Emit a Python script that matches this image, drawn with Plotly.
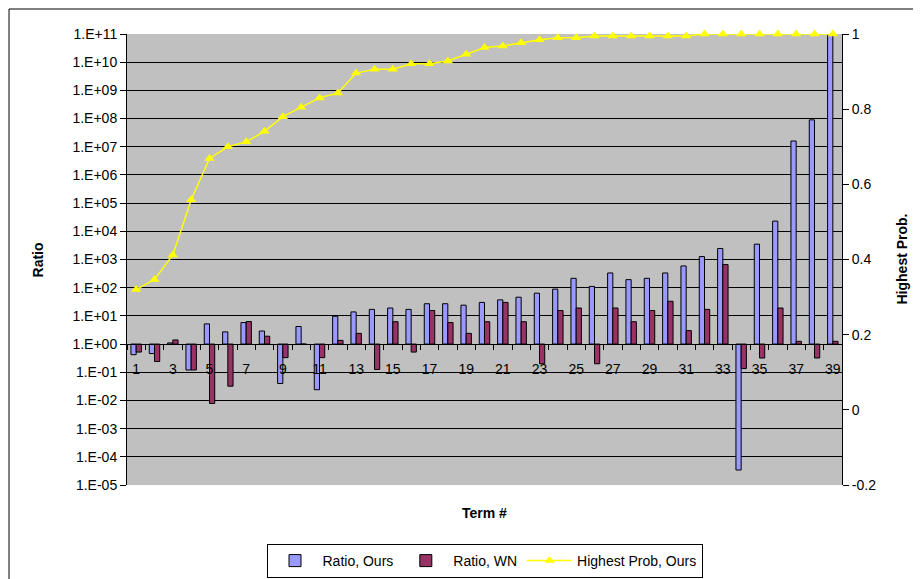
import plotly.graph_objects as go

terms = list(range(1, 40))

ratio_ours = [0.42, 0.46, 1.1, 0.12, 5.2, 2.7, 5.8, 2.9, 0.04, 4.2,
              0.024, 9.7, 13.8, 17, 19, 17, 27, 27, 24, 30,
              37, 46, 64, 89, 215, 111, 333, 193, 215, 333,
              590, 1270, 2460, 3.4e-5, 3500, 23000, 1.6e7, 9e7, 9e10]
ratio_wn = [0.52, 0.24, 1.4, 0.12, 0.0078, 0.032, 6.3, 1.9, 0.33, 1.0,
            0.33, 1.35, 2.4, 0.125, 6.2, 0.52, 15.5, 5.8, 2.4, 6.2,
            30, 6.2, 0.2, 15.5, 19, 0.2, 19, 6.2, 15.5, 33,
            3.0, 17, 660, 0.135, 0.32, 19, 1.25, 0.32, 1.25]
highest_prob = [0.32, 0.347, 0.412, 0.559, 0.669, 0.70, 0.713, 0.741, 0.78, 0.805,
                0.83, 0.843, 0.896, 0.906, 0.906, 0.921, 0.921, 0.928, 0.946, 0.964,
                0.968, 0.977, 0.985, 0.99, 0.99, 0.995, 0.995, 0.995, 0.995, 0.995,
                0.995, 1.0, 1.0, 1.0, 1.0, 1.0, 1.0, 1.0, 1.0]

ratio_exps = list(range(-5, 12))
ratio_ticktext = ["1.E%+03d" % k for k in ratio_exps]
prob_ticks = [-0.2, 0, 0.2, 0.4, 0.6, 0.8, 1]
prob_ticktext = ["-0.2", "0", "0.2", "0.4", "0.6", "0.8", "1"]
x_labels = [t for t in terms if t % 2 == 1]

FONT = "Liberation Sans, Arial, sans-serif"

fig = go.Figure()
# bars hang from 1.E+00 like the excel chart
fig.add_trace(go.Bar(
    x=terms, y=[v - 1 for v in ratio_ours], base=1,
    name="Ratio, Ours",
    marker=dict(color="#9999FF", line=dict(color="black", width=1)),
))
fig.add_trace(go.Bar(
    x=terms, y=[v - 1 for v in ratio_wn], base=1,
    name="Ratio, WN",
    marker=dict(color="#993366", line=dict(color="black", width=1)),
))
fig.add_trace(go.Scatter(
    x=terms, y=highest_prob, yaxis="y2",
    name="Highest Prob, Ours", mode="lines+markers",
    line=dict(color="#FFFF00", width=1.5),
    marker=dict(symbol="triangle-up", size=9, color="#FFFF00"),
    cliponaxis=False,
))

# page body has an 8px margin, so the figure is nudged up/left by that much
fig.update_layout(
    width=921, height=579,
    margin=dict(l=119, r=87, t=26, b=102),
    paper_bgcolor="white",
    plot_bgcolor="#C0C0C0",
    font=dict(family=FONT, size=14, color="black"),
    barmode="group", bargap=0.43, bargroupgap=0,
    xaxis=dict(
        range=[0.5, 39.5],
        anchor="free", position=5 / 16,
        tickmode="array", tickvals=x_labels,
        ticks="outside", ticklen=12, tickcolor="rgba(0,0,0,0)",
        showline=True, linecolor="black", linewidth=1,
        showgrid=False, zeroline=False,
        minor=dict(tick0=0.5, dtick=1, ticks="outside", ticklen=5,
                   tickcolor="black", showgrid=False),
    ),
    yaxis=dict(
        type="log", range=[-5, 11],
        tickmode="array", tickvals=[10.0 ** k for k in ratio_exps],
        ticktext=ratio_ticktext,
        ticks="outside", ticklen=6, tickcolor="black",
        showline=True, linecolor="black", linewidth=1,
        showgrid=True, gridcolor="black", gridwidth=1,
    ),
    yaxis2=dict(
        overlaying="y", side="right", range=[-0.2, 1],
        tickmode="array", tickvals=prob_ticks, ticktext=prob_ticktext,
        ticks="outside", ticklen=6, tickcolor="black",
        showline=True, linecolor="black", linewidth=1,
        showgrid=False, zeroline=False,
    ),
    legend=dict(
        orientation="h", x=0.5, xanchor="center",
        yref="container", y=(579 - 536) / 579, yanchor="top",
        bordercolor="black", borderwidth=1, bgcolor="white",
        itemwidth=45, font=dict(size=14),
    ),
    annotations=[
        dict(text="<b>Term #</b>", x=0.5, y=-0.062, xref="paper", yref="paper",
             xanchor="center", yanchor="middle", showarrow=False, font=dict(size=14)),
        dict(text="<b>Ratio</b>", x=-0.1245, y=0.5, xref="paper", yref="paper",
             xanchor="center", yanchor="middle",
             textangle=-90, showarrow=False, font=dict(size=14)),
        dict(text="<b>Highest Prob.</b>", x=(901 - 127) / 715, y=0.5,
             xref="paper", yref="paper", xanchor="center", yanchor="middle",
             textangle=-90, showarrow=False, font=dict(size=14)),
    ],
    shapes=[
        dict(type="rect", xref="paper", yref="paper",
             x0=-0.165, x1=1.12, y0=-0.23, y1=1 + 25 / 451,
             line=dict(color="black", width=1), layer="below"),
    ],
)

fig.write_html("out.html")
